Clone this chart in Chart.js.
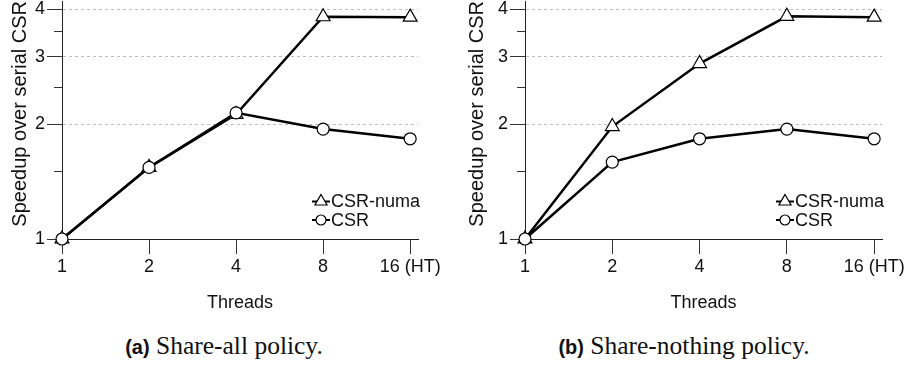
<!DOCTYPE html>
<html>
<head>
<meta charset="utf-8">
<script src="https://cdn.jsdelivr.net/npm/chart.js@4"></script>
<style>
  body { margin: 0; background: #fff; }
  #wrap { position: relative; width: 910px; height: 365px; }
  canvas { position: absolute; top: 0; }
  .cap { position: absolute; top: 332px; font: 25.5px/28px 'Liberation Serif', serif; color: #111; text-align: center; white-space: nowrap; }
  .cap b { font: bold 20px 'Liberation Sans', sans-serif; }
</style>
</head>
<body>
<div id="wrap">
  <canvas id="shareAll" width="455" height="320" style="left:0"></canvas>
  <canvas id="shareNothing" width="455" height="320" style="left:455px"></canvas>
  <div class="cap" style="left:114px;width:220px"><b>(a)</b> Share-all policy.</div>
  <div class="cap" style="left:539px;width:290px"><b>(b)</b> Share-nothing policy.</div>
</div>
<script>
var threads = ['1', '2', '4', '8', '16 (HT)'];
var yTicks = [1, 1.5, 2, 2.5, 3, 3.5, 4];

// speedup over serial CSR
var shareAllNuma = [1, 1.54, 2.12, 3.82, 3.81];
var shareAllCsr = [1, 1.54, 2.14, 1.94, 1.83];
var shareNothingNuma = [1, 1.97, 2.88, 3.83, 3.81];
var shareNothingCsr = [1, 1.59, 1.83, 1.94, 1.83];

Chart.defaults.font.family = "'Liberation Sans', Arial, sans-serif";
Chart.defaults.font.size = 18;
Chart.defaults.color = '#111';

function pts(values) {
  return values.map(function (v, i) { return {x: i, y: v}; });
}

// small "line + marker" sample with the label, bottom right of the plot
var cornerLegend = {
  id: 'cornerLegend',
  afterDatasetsDraw: function (chart) {
    var ctx = chart.ctx, area = chart.chartArea;
    var x = area.right - 87;
    var y = area.bottom - 37.5;
    chart.data.datasets.forEach(function (ds) {
      ctx.save();
      ctx.strokeStyle = '#000';
      ctx.lineWidth = 2;
      ctx.beginPath();
      ctx.moveTo(x - 19, y);
      ctx.lineTo(x - 1, y);
      ctx.stroke();
      var cx = x - 10;
      ctx.fillStyle = '#fff';
      ctx.lineWidth = 1.2;
      ctx.beginPath();
      if (ds.pointStyle === 'triangle') {
        var r = 7;
        ctx.moveTo(cx, y - r);
        ctx.lineTo(cx + r * 0.866, y + r / 2);
        ctx.lineTo(cx - r * 0.866, y + r / 2);
        ctx.closePath();
      } else {
        ctx.arc(cx, y, 5, 0, Math.PI * 2);
      }
      ctx.fill();
      ctx.stroke();
      ctx.fillStyle = '#111';
      ctx.font = "18px 'Liberation Sans', Arial, sans-serif";
      ctx.textBaseline = 'middle';
      ctx.fillText(ds.label, x, y + 1);
      ctx.restore();
      y += 18.5;
    });
  }
};

function makeChart(id, numa, csr, axisWidth, padRight, titlePad) {
  return new Chart(document.getElementById(id), {
    type: 'line',
    data: {
      datasets: [{
        label: 'CSR-numa',
        data: pts(numa),
        borderColor: '#000',
        borderWidth: 2.5,
        pointStyle: 'triangle',
        pointRadius: 8,
        pointBorderWidth: 1.2,
        pointBackgroundColor: '#fff',
        pointBorderColor: '#000',
        clip: false,
        order: 1
      }, {
        label: 'CSR',
        data: pts(csr),
        borderColor: '#000',
        borderWidth: 2.5,
        pointStyle: 'circle',
        pointRadius: 6,
        pointBorderWidth: 1.2,
        pointBackgroundColor: '#fff',
        pointBorderColor: '#000',
        clip: false,
        order: 0
      }]
    },
    options: {
      responsive: false,
      animation: false,
      devicePixelRatio: 1,
      layout: { autoPadding: false, padding: { top: 1, right: padRight, bottom: 0, left: 0 } },
      plugins: { legend: { display: false }, tooltip: { enabled: false } },
      scales: {
        x: {
          type: 'linear',
          min: 0,
          max: 4.09,
          afterBuildTicks: function (s) {
            s.ticks = threads.map(function (t, i) { return {value: i}; });
          },
          afterFit: function (s) { s.height = 81; s.paddingLeft = 0; s.paddingRight = 0; },
          ticks: {
            autoSkip: false,
            maxRotation: 0,
            padding: 2,
            color: '#111',
            callback: function (v) { return threads[v]; }
          },
          grid: { drawOnChartArea: false, tickLength: 15, tickColor: '#333', tickWidth: 1 },
          border: { color: '#222', width: 1 },
          title: { display: true, text: 'Threads', color: '#111', font: { size: 18 }, padding: { top: 0, bottom: 6 } }
        },
        y: {
          type: 'logarithmic',
          min: 1,
          max: 4.2,
          afterBuildTicks: function (s) {
            s.ticks = yTicks.map(function (v) { return {value: v}; });
          },
          afterFit: function (s) { s.width = axisWidth; s.paddingTop = 0; s.paddingBottom = 0; },
          ticks: {
            autoSkip: false,
            padding: 2,
            color: '#111',
            callback: function (v) { return Number.isInteger(v) ? String(v) : ''; }
          },
          grid: {
            color: function (c) {
              var v = c.tick ? c.tick.value : 0;
              return (v === 2 || v === 3 || v === 4) ? '#bdbdbd' : 'rgba(0,0,0,0)';
            },
            lineWidth: 1,
            tickLength: 15,
            tickColor: '#333',
            tickWidth: 1,
            // unlabeled ticks are shorter: only the inner part is drawn
            tickBorderDash: function (c) {
              return c.tick && Number.isInteger(c.tick.value) ? [] : [0, 7, 9, 30];
            }
          },
          border: { color: '#222', width: 1, dash: [3, 3] },
          title: {
            display: true,
            text: 'Speedup over serial CSR',
            align: 'end',
            color: '#111',
            font: { size: 20 },
            padding: { top: titlePad, bottom: 0 }
          }
        }
      }
    },
    plugins: [cornerLegend]
  });
}

makeChart('shareAll', shareAllNuma, shareAllCsr, 62, 37, 8);
makeChart('shareNothing', shareNothingNuma, shareNothingCsr, 70, 28, 10);
</script>
</body>
</html>
